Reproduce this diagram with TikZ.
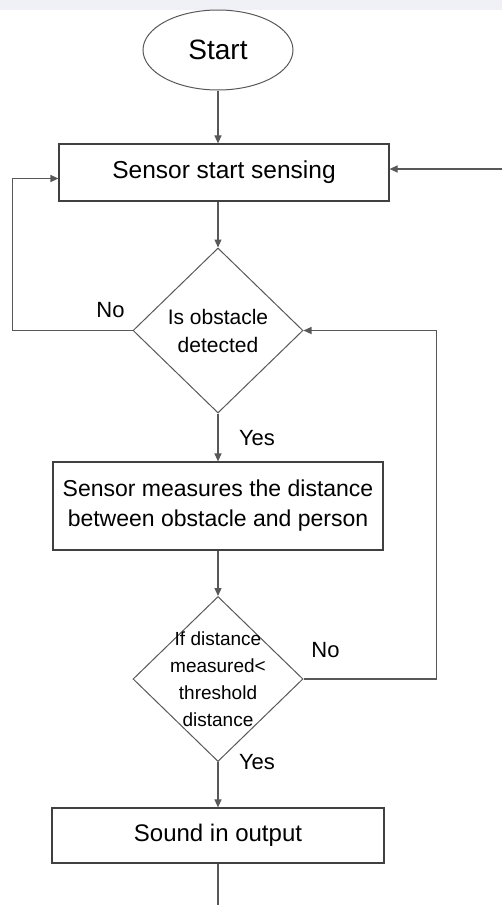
\documentclass[tikz,border=0pt]{standalone}
\usepackage{fontspec}
\setmainfont{Liberation Sans}
\usepackage{tikz}
\usetikzlibrary{shapes.geometric,arrows.meta,positioning}
\definecolor{bandgray}{RGB}{239,241,246}
\definecolor{linegray}{RGB}{88,88,88}
\tikzstyle{startstop} = [ellipse, minimum width=150pt, minimum height=80pt, text centered, draw=linegray, line width=1pt, font=\fontsize{28}{32}\selectfont]
\tikzstyle{process} = [rectangle, minimum width=330pt, minimum height=56pt, text centered, align=center, draw=black!75, line width=1.2pt, font=\fontsize{23}{30}\selectfont]
\tikzstyle{decision} = [diamond, minimum width=170pt, minimum height=165pt, inner sep=-12pt, align=center, draw=linegray, line width=1pt, font=\fontsize{21}{28}\selectfont]
\tikzstyle{answer} = [font=\fontsize{22}{26}\selectfont]
\tikzstyle{arrow} = [line width=1.2pt, draw=linegray, ->, >={Triangle[length=8pt,width=7pt]}]

\begin{document}
\begin{tikzpicture}[x=1pt, y=1pt, node distance=160pt]
    \useasboundingbox (0,0) rectangle (502,-905);
    \fill [bandgray] (0,0) rectangle (502,-10);
    \node (start) [startstop] at (218,-50) {Start};
    \node (sense) [process, node distance=122.5pt, below of=start, xshift=6pt, minimum height=57pt, font=\fontsize{24.5}{30}\selectfont] {Sensor start sensing};
    \node (obstacle) [decision, node distance=158pt, below of=sense, xshift=-6pt] {Is obstacle\\detected};
    \node (measure) [process, node distance=175.5pt, below of=obstacle, minimum height=88pt] {Sensor measures the distance\\between obstacle and person};
    \node (check) [decision, node distance=173pt, below of=measure, font=\fontsize{19}{27}\selectfont] {If distance\\measured<\\threshold\\distance};
    \node (sound) [process, node distance=156.5pt, below of=check, minimum height=55pt, minimum width=332pt, font=\fontsize{24}{30}\selectfont] {Sound in output};
    \node (no1) [answer] at ([xshift=-22pt, yshift=20pt]obstacle.west) {No};
    \node (yes1) [answer] at ([xshift=39pt, yshift=-25pt]obstacle.south) {Yes};
    \node (no2) [answer] at ([xshift=22pt, yshift=29pt]check.east) {No};
    \node (yes2) [answer] at ([xshift=39pt]check.south) {Yes};
    \coordinate (loopin) at (502,-169);
    \coordinate (tail) at (218,-905);
    \draw [arrow] (start.south) -- (start.south |- sense.north);
    \draw [arrow] (obstacle.north |- sense.south) -- (obstacle.north);
    \draw [arrow] (obstacle.south) -- (measure.north);
    \draw [arrow] (measure.south) -- (check.north);
    \draw [arrow] (check.south) -- (sound.north);
    \draw [arrow, -] (sound.south) -- (tail);
    \draw [arrow] (obstacle.west) -- ++(-120,0) |- ([yshift=-6pt]sense.west);
    \draw [arrow] (check.east) -- ++(133,0) |- (obstacle.east);
    \draw [arrow] (loopin) -- (loopin -| sense.east);
\end{tikzpicture}
\end{document}
